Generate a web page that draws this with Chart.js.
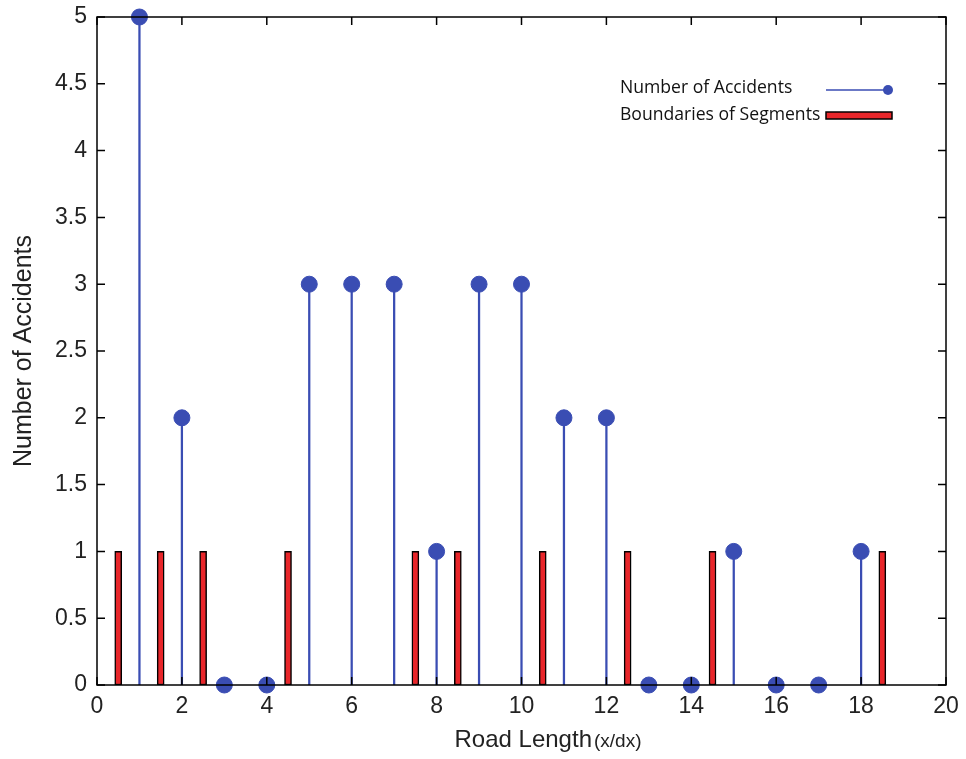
<!DOCTYPE html>
<html>
<head>
<meta charset="utf-8">
<script src="https://cdn.jsdelivr.net/npm/chart.js@4.4.0/dist/chart.umd.min.js"></script>
<style>
  html, body { margin: 0; padding: 0; background: #fff; }
  #wrap { width: 966px; height: 759px; }
</style>
</head>
<body>
<div id="wrap"><canvas id="grafico" width="966" height="759"></canvas></div>
<script>
// datos
const posiciones = [1, 2, 3, 4, 5, 6, 7, 8, 9, 10, 11, 12, 13, 14, 15, 16, 17, 18];
const accidentes = [5, 2, 0, 0, 3, 3, 3, 1, 3, 3, 2, 2, 0, 0, 1, 0, 0, 1];
const limites = [0.5, 1.5, 2.5, 4.5, 7.5, 8.5, 10.5, 12.5, 14.5, 18.5];
const alturaLimite = [1, 1, 1, 1, 1, 1, 1, 1, 1, 1];
const ticksX = [0, 2, 4, 6, 8, 10, 12, 14, 16, 18, 20];
const ticksY = [0, 0.5, 1, 1.5, 2, 2.5, 3, 3.5, 4, 4.5, 5];
const etiquetaSerie = 'Number of Accidents';
const etiquetaLimites = 'Boundaries of Segments';

const azul = '#3a4db3';
const rojo = '#e8262a';
const fuente = '"Liberation Sans", Arial, sans-serif';

const puntosAcc = posiciones.map((x, i) => ({ x: x, y: accidentes[i] }));
const puntosLim = limites.map((x, i) => ({ x: x, y: alturaLimite[i] }));

// ticks hacia adentro, marco y titulos
const marcoPlugin = {
    id: 'marco',
    afterDraw(chart) {
        const ctx = chart.ctx;
        const a = chart.chartArea;
        const sx = chart.scales.x, sy = chart.scales.y;
        ctx.save();
        ctx.strokeStyle = '#000';
        ctx.lineWidth = 1.5;
        ctx.strokeRect(a.left, a.top, a.right - a.left, a.bottom - a.top);
        ctx.beginPath();
        for (let v of ticksX) {
            let px = sx.getPixelForValue(v);
            ctx.moveTo(px, a.bottom); ctx.lineTo(px, a.bottom - 8);
            ctx.moveTo(px, a.top); ctx.lineTo(px, a.top + 8);
        }
        for (let v of ticksY) {
            let py = sy.getPixelForValue(v);
            ctx.moveTo(a.left, py); ctx.lineTo(a.left + 8, py);
            ctx.moveTo(a.right, py); ctx.lineTo(a.right - 8, py);
        }
        ctx.stroke();

        // titulo eje x
        ctx.fillStyle = '#222';
        ctx.textBaseline = 'alphabetic';
        ctx.textAlign = 'left';
        ctx.font = '24px ' + fuente;
        let t1 = 'Road Length';
        let w1 = ctx.measureText(t1).width;
        ctx.font = '19px ' + fuente;
        let t2 = '(x/dx)';
        let w2 = ctx.measureText(t2).width;
        let x0 = 548 - (w1 + w2 + 2) / 2;
        ctx.font = '24px ' + fuente;
        ctx.fillText(t1, x0, 747);
        ctx.font = '19px ' + fuente;
        ctx.fillText(t2, x0 + w1 + 2, 747);

        // titulo eje y
        ctx.save();
        ctx.translate(31, 351);
        ctx.rotate(-Math.PI / 2);
        ctx.textAlign = 'center';
        ctx.font = '25px ' + fuente;
        ctx.fillText('Number of Accidents', 0, 0);
        ctx.restore();

        // leyenda
        ctx.font = '500 14px "Open Sans", "Noto Sans", sans-serif';
        let escala = 172 / ctx.measureText(etiquetaSerie).width;
        ctx.font = '500 ' + (14 * escala).toFixed(1) + 'px "Open Sans", "Noto Sans", sans-serif';
        ctx.textAlign = 'left';
        ctx.textBaseline = 'middle';
        ctx.fillStyle = '#111';
        ctx.fillText(etiquetaSerie, 620, 88);
        ctx.fillText(etiquetaLimites, 620, 115);
        ctx.strokeStyle = azul;
        ctx.lineWidth = 1.5;
        ctx.beginPath(); ctx.moveTo(826, 90); ctx.lineTo(888, 90); ctx.stroke();
        ctx.fillStyle = azul;
        ctx.beginPath(); ctx.arc(888, 90, 5, 0, Math.PI * 2); ctx.fill();
        ctx.fillStyle = rojo;
        ctx.fillRect(826, 112, 66, 7);
        ctx.strokeStyle = '#000';
        ctx.lineWidth = 1.5;
        ctx.strokeRect(826, 112, 66, 7);
        ctx.restore();
    }
};

const ctxGrafico = document.getElementById('grafico').getContext('2d');
const graficoNuevo = new Chart(ctxGrafico, {
    type: 'bar',
    data: {
        datasets: [{
            type: 'bar',
            label: etiquetaLimites,
            data: puntosLim,
            backgroundColor: rojo,
            borderColor: '#000',
            borderWidth: 1.5,
            borderSkipped: false,
            barThickness: 7,
            grouped: false,
            order: 2
        }, {
            type: 'bar',
            label: etiquetaSerie + ' stem',
            data: puntosAcc,
            backgroundColor: azul,
            borderWidth: 0,
            barThickness: 1.6,
            grouped: false,
            order: 3
        }, {
            type: 'scatter',
            label: etiquetaSerie,
            data: puntosAcc,
            backgroundColor: azul,
            borderColor: azul,
            pointRadius: 8,
            pointHoverRadius: 8,
            showLine: false,
            clip: false,
            order: 1
        }]
    },
    options: {
        responsive: false,
        animation: false,
        events: [],
        layout: { padding: { top: 17, right: 20, left: 0, bottom: 0 } },
        plugins: {
            legend: { display: false },
            tooltip: { enabled: false }
        },
        scales: {
            x: {
                type: 'linear',
                offset: false,
                min: 0,
                max: 20,
                afterBuildTicks: (s) => { s.ticks = ticksX.map(v => ({ value: v })); },
                afterFit: (s) => { s.height = 74; s.paddingLeft = 0; s.paddingRight = 0; },
                grid: { display: false, drawTicks: false, offset: false },
                border: { display: false },
                ticks: {
                    color: '#222',
                    padding: 8,
                    maxRotation: 0,
                    font: { family: fuente, size: 23 }
                }
            },
            y: {
                type: 'linear',
                min: 0,
                max: 5,
                afterBuildTicks: (s) => { s.ticks = ticksY.map(v => ({ value: v })); },
                afterFit: (s) => { s.width = 97; s.paddingTop = 0; s.paddingBottom = 0; },
                grid: { display: false, drawTicks: false },
                border: { display: false },
                ticks: {
                    color: '#222',
                    padding: 10,
                    font: { family: fuente, size: 23 },
                    callback: (v) => String(v)
                }
            }
        }
    },
    plugins: [marcoPlugin]
});
</script>
</body>
</html>
